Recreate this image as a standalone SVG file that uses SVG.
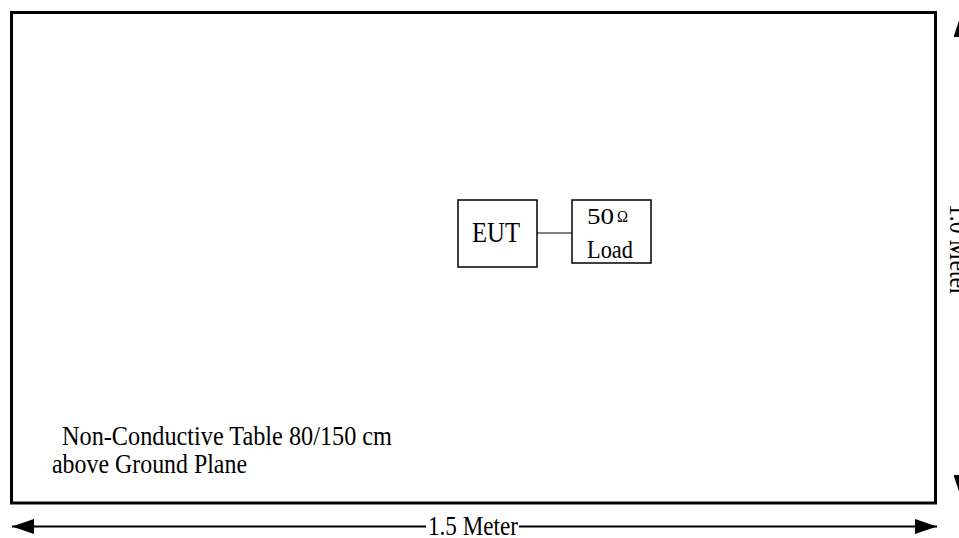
<svg xmlns="http://www.w3.org/2000/svg" width="959" height="538" viewBox="0 0 959 538">
<style>
text{font-family:"Liberation Serif","Times New Roman",serif;fill:#000}
.box{fill:#fff;stroke:#000;stroke-width:1.5}
.dim{stroke:#000;stroke-width:2;fill:none}
</style>
<defs>
<marker id="ah" viewBox="0 0 22 15" refX="22" refY="7.5" markerWidth="22" markerHeight="15" markerUnits="userSpaceOnUse" orient="auto-start-reverse">
<path d="M0,0 L22,7.5 L0,15 Z" fill="#000"/>
</marker>
</defs>
<rect width="959" height="538" fill="#fff"/>
<g id="table">
<rect x="11.5" y="12.5" width="924" height="490.5" fill="#fff" stroke="#000" stroke-width="3"/>
<text x="62" y="445" font-size="28" textLength="330" lengthAdjust="spacingAndGlyphs">Non-Conductive Table 80/150 cm</text>
<text x="52" y="473" font-size="28" textLength="195" lengthAdjust="spacingAndGlyphs">above Ground Plane</text>
</g>
<g id="connectors">
<line x1="537" y1="233" x2="572" y2="233" stroke="#555" stroke-width="1.5"/>
<line class="dim" x1="12" y1="526.5" x2="426" y2="526.5" marker-start="url(#ah)"/>
<line class="dim" x1="519" y1="526.5" x2="937" y2="526.5" marker-end="url(#ah)"/>
<line class="dim" x1="961" y1="15" x2="961" y2="200" marker-start="url(#ah)"/>
<line class="dim" x1="961" y1="300" x2="961" y2="497" marker-end="url(#ah)"/>
</g>
<g id="eut">
<rect class="box" x="458" y="200" width="79" height="67"/>
<text x="472" y="242" font-size="30" textLength="48" lengthAdjust="spacingAndGlyphs">EUT</text>
</g>
<g id="load">
<rect class="box" x="572" y="200" width="79" height="63"/>
<text x="587" y="224" font-size="24" textLength="27" lengthAdjust="spacingAndGlyphs">50</text>
<text x="617" y="222" font-size="17" textLength="11" lengthAdjust="spacingAndGlyphs">Ω</text>
<text x="587" y="258" font-size="25" textLength="46" lengthAdjust="spacingAndGlyphs">Load</text>
</g>
<g id="dim-labels">
<text x="428" y="535" font-size="27" textLength="90" lengthAdjust="spacingAndGlyphs">1.5 Meter</text>
<text transform="translate(950,204) rotate(90)" font-size="27" textLength="92" lengthAdjust="spacingAndGlyphs">1.0 Meter</text>
</g>
</svg>
